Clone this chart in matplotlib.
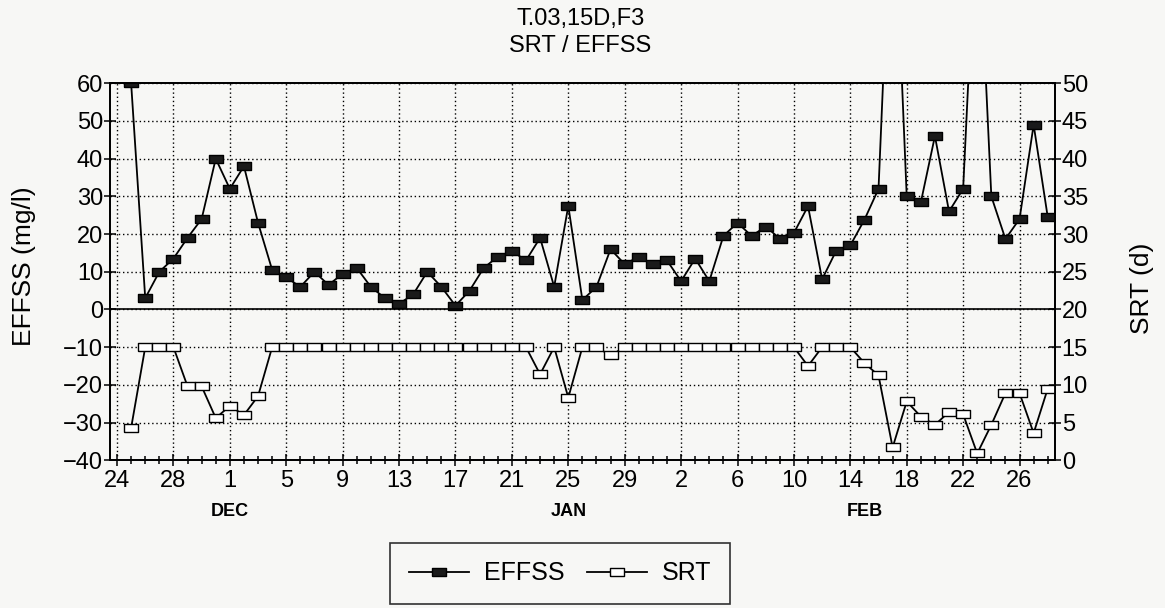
import numpy as np
import matplotlib
matplotlib.use('Agg')
import matplotlib.pyplot as plt
import matplotlib.transforms as mtransforms

plt.rcParams['font.family'] = ['Liberation Sans', 'DejaVu Sans']

# sample days, one per day starting Nov 25 (index 0 = Nov 24)
days = list(range(1, 67))

effss = [60, 3, 10, 13.5, 19, 24, 40, 32, 38, 23,
         10.5, 8.5, 6, 10, 6.5, 9.5, 11, 6, 3, 1.5,
         4, 10, 6, 1, 5, 11, 14, 15.5, 13, 19,
         6, 27.5, 2.5, 6, 16, 12, 14, 12, 13, 7.5,
         13.5, 7.5, 19.5, 23, 19.5, 22, 18.8, 20.3, 27.4, 8,
         15.6, 17, 23.8, 32, 120, 30, 28.4, 46, 26, 32,
         110, 30, 18.7, 24, 49, 24.5]

srt = [4.3, 15, 15, 15, 9.8, 9.8, 5.6, 7.2, 6.0, 8.5,
       15, 15, 15, 15, 15, 15, 15, 15, 15, 15,
       15, 15, 15, 15, 15, 15, 15, 15, 15, 11.4,
       15, 8.3, 15, 15, 13.9, 15, 15, 15, 15, 15,
       15, 15, 15, 15, 15, 15, 15, 15, 12.5, 15,
       15, 15, 12.9, 11.25, 1.7, 7.8, 5.8, 4.7, 6.4, 6.1,
       0.9, 4.7, 8.9, 8.9, 3.6, 9.5]

tickPos = list(range(0, 65, 4))
tickLabels = ['24', '28', '1', '5', '9', '13', '17', '21', '25', '29',
              '2', '6', '10', '14', '18', '22', '26']
months = ['DEC', 'JAN', 'FEB']
monthPos = [8, 32, 53]

fontSize = 17
bg = '#f7f7f5'
box = [(-1, -0.55), (1, -0.55), (1, 0.55), (-1, 0.55), (-1, -0.55)]

fig = plt.figure(figsize=(11.65, 6.08), dpi=100, facecolor=bg)
ax = fig.add_axes([0.0944, 0.243, 0.811, 0.62], facecolor=bg)
ax2 = ax.twinx()

l1, = ax.plot(days, effss, color='black', lw=1.3, marker=box, markersize=10,
              markerfacecolor='#1a1a1a', markeredgecolor='black', label='EFFSS')
l2, = ax2.plot(days, srt, color='black', lw=1.3, marker=box, markersize=10,
               markerfacecolor='white', markeredgecolor='black', label='SRT')

ax.set_xlim(-0.5, 66.5)
ax.set_ylim(-40, 60)
ax2.set_ylim(0, 50)

ax.set_yticks(np.arange(-40, 61, 10))
ax2.set_yticks(np.arange(0, 51, 5))
ax.set_xticks(tickPos)
ax.set_xticklabels(tickLabels)
ax.set_xticks(range(0, 67), minor=True)

ax.grid(True, which='major', color='black', linestyle=(0, (1, 2)), lw=1.0)
ax.axhline(0, color='black', lw=1.2)

for a in (ax, ax2):
    for s in a.spines.values():
        s.set_linewidth(1.3)
ax.tick_params(axis='both', which='major', labelsize=fontSize, direction='inout', length=8, width=1.1)
ax.tick_params(axis='x', which='minor', direction='inout', length=6, width=1.1)
ax2.tick_params(axis='y', labelsize=fontSize, direction='inout', length=8, width=1.1, pad=1)
ax.tick_params(axis='y', pad=1)
ax.tick_params(axis='x', pad=3)

ax.set_ylabel('EFFSS (mg/l)', fontsize=19)
ax.yaxis.set_label_coords(-0.078, 0.515)
ax2.set_ylabel('SRT (d)', fontsize=19)
ax2.yaxis.set_label_coords(1.08, 0.455)

trans = mtransforms.blended_transform_factory(ax.transData, ax.transAxes)
for m, p in zip(months, monthPos):
    ax.text(p, -0.135, m, transform=trans, ha='center', va='center',
            fontsize=13, fontweight='bold')

fig.text(0.498, 0.968, 'T.03,15D,F3', ha='center', va='center', fontsize=17)
fig.text(0.498, 0.925, 'SRT / EFFSS', ha='center', va='center', fontsize=17)

leg = fig.legend(handles=[l1, l2], loc='center', bbox_to_anchor=(0.481, 0.057),
                 ncol=2, fontsize=18, frameon=True, fancybox=False,
                 edgecolor='black', facecolor=bg, handlelength=2.4,
                 borderpad=0.75, columnspacing=0.9, handletextpad=0.6)
leg.get_frame().set_linewidth(1.2)

plt.savefig('out.png', dpi=100, facecolor=bg)
plt.close()
